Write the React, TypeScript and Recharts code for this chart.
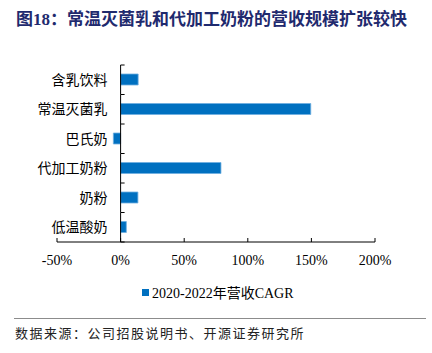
import React from "react";
import { BarChart, Bar, XAxis, YAxis } from "recharts";

const categories = ["含乳饮料", "常温灭菌乳", "巴氏奶", "代加工奶粉", "奶粉", "低温酸奶"];
const cagrValues = [13.8, 149.5, -5.7, 78.9, 13.6, 4.5];
const xTicks = [-50, 0, 50, 100, 150, 200];
const seriesName = "2020-2022年营收CAGR";

const data = categories.map((name, i) => ({ name, value: cagrValues[i] }));

const W = 432;
const H = 353;
const Y_AXIS_W = 1;
const MARGIN = { top: 65, right: 57, left: 56, bottom: 81 };
const X_AXIS_H = 30;
const PLOT_LEFT = MARGIN.left + Y_AXIS_W;
const PLOT_W = W - PLOT_LEFT - MARGIN.right;
const PLOT_H = H - MARGIN.top - MARGIN.bottom - X_AXIS_H;
const X_MIN = -50;
const X_MAX = 200;
const ZERO_X = PLOT_LEFT + (PLOT_W * (0 - X_MIN)) / (X_MAX - X_MIN);
const BAND = PLOT_H / categories.length;

const BAR_COLOR = "#0070C0";
const FONT = '"Liberation Serif", "Noto Sans CJK SC", serif';

// category labels sit left of the zero line; the zero line and its boundary ticks are drawn here too
function CategoryTick({ y, payload, index }: any) {
  const top = y - BAND / 2;
  const bottom = y + BAND / 2;
  return (
    <g>
      <line x1={ZERO_X} x2={ZERO_X} y1={top} y2={bottom} stroke="#000" />
      <line x1={ZERO_X} x2={ZERO_X + 4} y1={top} y2={top} stroke="#000" />
      {index === categories.length - 1 && (
        <line x1={ZERO_X} x2={ZERO_X + 4} y1={bottom} y2={bottom} stroke="#000" />
      )}
      <text
        x={ZERO_X - 13}
        y={y}
        dy={5}
        textAnchor="end"
        fontSize={14}
        fontFamily={FONT}
        fill="#000"
      >
        {payload.value}
      </text>
    </g>
  );
}

export default function App() {
  return (
    <div style={{ position: "absolute", left: 0, top: 0, width: W, height: H, background: "#fff" }}>
      <div
        style={{
          position: "absolute",
          left: 16,
          top: 5,
          fontSize: 17,
          fontWeight: 700,
          color: "#1F2A6E",
          fontFamily: FONT,
          whiteSpace: "nowrap",
        }}
      >
        图18：常温灭菌乳和代加工奶粉的营收规模扩张较快
      </div>
      <div style={{ position: "absolute", left: 0, top: 0 }}>
        <BarChart width={W} height={H} data={data} layout="vertical" margin={MARGIN}>
          <XAxis
            type="number"
            domain={[X_MIN, X_MAX]}
            ticks={xTicks}
            height={X_AXIS_H}
            tickFormatter={(v) => `${v}%`}
            axisLine={{ stroke: "#000" }}
            tickLine={{ stroke: "#000" }}
            tickSize={-4}
            tickMargin={17}
            tick={{ fill: "#000", fontSize: 14, fontFamily: FONT }}
            interval={0}
          />
          <YAxis
            type="category"
            dataKey="name"
            width={Y_AXIS_W}
            axisLine={false}
            tickLine={false}
            tick={<CategoryTick />}
            interval={0}
          />
          <Bar
            dataKey="value"
            fill={BAR_COLOR}
            stroke="#6FAEE0"
            strokeWidth={0.8}
            barSize={11}
            isAnimationActive={false}
          />
        </BarChart>
      </div>
      <div
        style={{
          position: "absolute",
          left: 142,
          top: 282,
          display: "flex",
          alignItems: "center",
          fontSize: 14,
          fontFamily: FONT,
          color: "#000",
          whiteSpace: "nowrap",
        }}
      >
        <span style={{ display: "inline-block", width: 7, height: 7, background: BAR_COLOR, marginRight: 3 }} />
        {seriesName}
      </div>
      <div
        style={{
          position: "absolute",
          left: 14,
          top: 318,
          width: 412,
          height: 0,
          borderTop: "1.5px solid #8C8C8C",
        }}
      />
      <div
        style={{
          position: "absolute",
          left: 15,
          top: 323,
          fontSize: 13,
          fontFamily: FONT,
          color: "#222",
          letterSpacing: 1.5,
          whiteSpace: "nowrap",
        }}
      >
        数据来源：公司招股说明书、开源证券研究所
      </div>
    </div>
  );
}
